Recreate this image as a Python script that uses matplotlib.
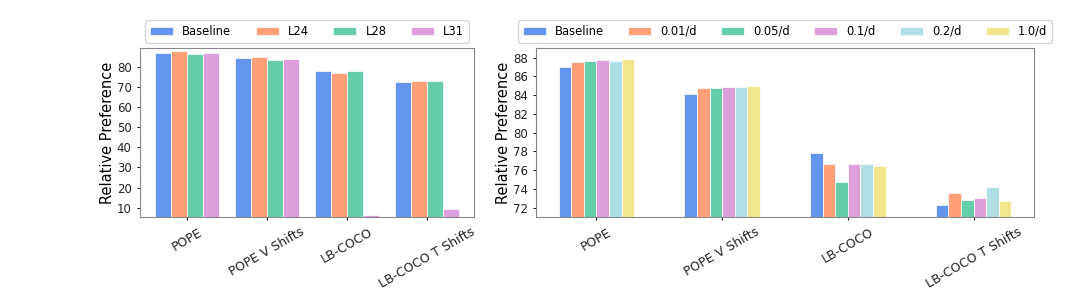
import matplotlib
matplotlib.use("Agg")
import matplotlib.pyplot as plt
from matplotlib.ticker import MultipleLocator
import numpy as np

benchmarks = ["POPE", "POPE V Shifts", "LB-COCO", "LB-COCO T Shifts"]

# left panel: intervention layer
layer_names = ["Baseline", "L24", "L28", "L31"]
layer_vals = {
    "Baseline": [87.0, 84.1, 77.8, 72.3],
    "L24": [87.7, 84.8, 76.7, 73.0],
    "L28": [86.5, 83.2, 77.8, 73.0],
    "L31": [87.0, 84.0, 6.6, 9.6],
}

# right panel: strength
strength_names = ["Baseline", "0.01/d", "0.05/d", "0.1/d", "0.2/d", "1.0/d"]
strength_vals = {
    "Baseline": [87.0, 84.1, 77.8, 72.3],
    "0.01/d": [87.5, 84.8, 76.7, 73.6],
    "0.05/d": [87.6, 84.8, 74.8, 72.8],
    "0.1/d": [87.7, 84.9, 76.7, 73.0],
    "0.2/d": [87.6, 84.9, 76.7, 74.2],
    "1.0/d": [87.8, 85.0, 76.5, 72.7],
}

colors = ["cornflowerblue", "lightsalmon", "mediumaquamarine", "plum", "powderblue", "khaki"]


def grouped_bars(ax, names, vals, width):
    x = np.arange(len(benchmarks))
    n = len(names)
    for i, name in enumerate(names):
        offset = (i - (n - 1) / 2) * width
        ax.bar(x + offset, vals[name], width, label=name, color=colors[i],
               edgecolor="white", linewidth=0.5)
    ax.set_xticks(x)
    ax.set_xticklabels(benchmarks, rotation=30, fontsize=9)
    ax.set_ylabel("Relative Preference", fontsize=10.5, labelpad=1)
    ax.tick_params(axis="y", labelsize=8.5, colors="#222222", length=2.5)
    ax.tick_params(axis="x", colors="#222222", length=2.5)
    for s in ax.spines.values():
        s.set_color("#888888")
    allv = [v for name in names for v in vals[name]]
    return min(allv), max(allv)


fig = plt.figure(figsize=(10.8, 2.96), dpi=100)
ax1 = fig.add_axes([0.1296, 0.266, 0.3093, 0.573])
ax2 = fig.add_axes([0.4963, 0.266, 0.4611, 0.573])

lo, hi = grouped_bars(ax1, layer_names, layer_vals, 0.2)
ax1.set_ylim(lo * 0.8, hi * 1.02)
ax1.yaxis.set_major_locator(MultipleLocator(10))
ax1.legend(loc="lower center", bbox_to_anchor=(0.5, 1.03), ncol=4, fontsize=8.3,
           columnspacing=2.1, handlelength=2.0, frameon=True, borderaxespad=0)

lo, hi = grouped_bars(ax2, strength_names, strength_vals, 0.1)
ax2.set_ylim(71.0, 89.05)
ax2.set_yticks(np.arange(72, 89, 2))
ax2.legend(loc="lower center", bbox_to_anchor=(0.5, 1.03), ncol=6, fontsize=8.3,
           columnspacing=2.1, handlelength=2.0, frameon=True, borderaxespad=0)

fig.savefig("out.png", dpi=100)
